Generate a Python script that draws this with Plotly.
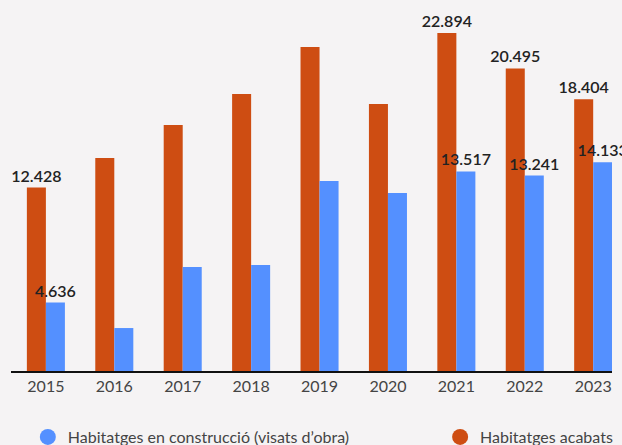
import plotly.graph_objects as go

years = ["2015", "2016", "2017", "2018", "2019", "2020", "2021", "2022", "2023"]
acabats = [12428, 14430, 16660, 18760, 21950, 18090, 22894, 20495, 18404]
construccio = [4636, 2910, 7040, 7180, 12870, 12060, 13517, 13241, 14133]
acabats_labelled = [True, False, False, False, False, False, True, True, True]
construccio_labelled = [True, False, False, False, False, False, True, True, True]

name_constr = "Habitatges en construcció (visats d’obra)"
name_acab = "Habitatges acabats"

ORANGE = "#CE4D12"
BLUE = "#5490FF"
BG = "#F5F3F4"
FONT = "Lato"


def fmt(v):
    return f"{v:,}".replace(",", ".")


x = list(range(len(years)))

fig = go.Figure()
fig.add_trace(go.Bar(
    x=x, y=acabats, name=name_acab, marker=dict(color=ORANGE, line=dict(width=0)),
    text=[fmt(v) if s else "" for v, s in zip(acabats, acabats_labelled)],
    textposition="outside", cliponaxis=False, constraintext="none",
    textfont=dict(family=FONT, size=16, color="#222222", weight=600),
    showlegend=False, hoverinfo="skip",
))
fig.add_trace(go.Bar(
    x=x, y=construccio, name=name_constr, marker=dict(color=BLUE, line=dict(width=0)),
    text=[fmt(v) if s else "" for v, s in zip(construccio, construccio_labelled)],
    textposition="outside", cliponaxis=False, constraintext="none",
    textfont=dict(family=FONT, size=16, color="#222222", weight=600),
    showlegend=False, hoverinfo="skip",
))
# legend entries with round markers
fig.add_trace(go.Scatter(x=[None], y=[None], mode="markers", name=name_constr,
                         marker=dict(color=BLUE, size=18, symbol="circle"), legend="legend"))
fig.add_trace(go.Scatter(x=[None], y=[None], mode="markers", name=name_acab,
                         marker=dict(color=ORANGE, size=18, symbol="circle"), legend="legend2"))

legend_common = dict(orientation="h", xanchor="left", yref="container",
                     y=1 - 437 / 445, yanchor="middle",
                     font=dict(family=FONT, size=16, color="#444444"),
                     bgcolor="rgba(0,0,0,0)", itemclick=False)

fig.update_layout(
    width=622, height=445,
    margin=dict(l=11, r=10, t=10, b=74, autoexpand=False),
    paper_bgcolor=BG, plot_bgcolor=BG,
    barmode="group", bargap=0.444, bargroupgap=0,
    font=dict(family=FONT, size=16, color="#444444"),
    legend=dict(x=0.028, **legend_common),
    legend2=dict(x=0.714, **legend_common),
    xaxis=dict(tickmode="array", tickvals=x, ticktext=years, range=[-0.51, 8.275],
               showline=True, linecolor="#111111", linewidth=2, ticks="",
               showgrid=False, zeroline=False, tickfont=dict(family=FONT, size=16, color="#444444")),
    yaxis=dict(range=[0, 24451], visible=False, showgrid=False, zeroline=False),
)

fig.write_html("out.html", config={"displayModeBar": False},
               post_script="document.body.style.margin='0';")
